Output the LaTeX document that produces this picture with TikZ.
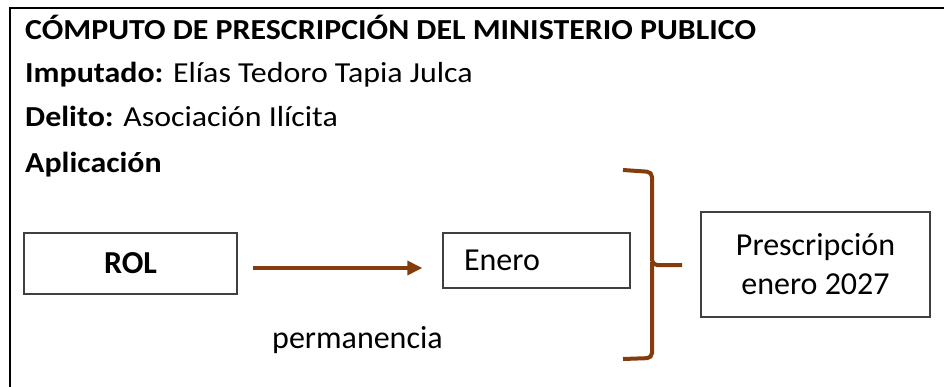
\documentclass[tikz,border=0pt]{standalone}
\usepackage{fontspec}
\setmainfont{Carlito}
\newfontfamily\headfont{Carlito}[FakeStretch=1.1]
\usetikzlibrary{arrows.meta}
\usetikzlibrary{positioning}
\definecolor{rust}{RGB}{132,60,12}

\begin{document}
\begin{tikzpicture}[x=1pt,y=-1pt,>={Triangle[length=15pt,width=14pt]},
  box/.style={draw=black!75,line width=1.4pt,font=\fontsize{32}{39}\selectfont},
  txt/.style={inner sep=0pt,anchor=base west,font=\fontsize{32}{39}\selectfont},
  head/.style={inner sep=0pt,anchor=base west,font=\headfont\fontsize{29}{35}\selectfont}]

\useasboundingbox (0,0) rectangle (944,387);

% Outer frame
\draw[line width=2.3pt] (10,400) -- (10,8) -- (950,8);

% Header lines
\node[head] (T) at (25,40) {\textbf{CÓMPUTO DE PRESCRIPCIÓN DEL MINISTERIO PUBLICO}};
\node[head] (I) at (25,83) {\textbf{Imputado:} Elías Tedoro Tapia Julca};
\node[head] (D) at (25,127) {\textbf{Delito:} Asociación Ilícita};
\node[head] (A) at (25,173) {\textbf{Aplicación}};

% Boxes
\node[box,minimum width=213pt,minimum height=61pt] (ROL) at (130.5,263.5) {\textbf{ROL}};
\node[box,minimum width=187pt,minimum height=55pt,text width=145pt,inner xsep=21pt,align=left] (E) at (536.5,260.5) {Enero};
\node[box,minimum width=229pt,minimum height=105pt,align=center] (P) at (815.5,264.5) {Prescripción\\enero 2027};

% Arrow
\draw[->,rust,line width=3.5pt] ([shift={(15,4.5)}]ROL.east) -- ([shift={(-20,7.5)}]E.west);
\node[txt] (perm) at (272,348) {permanencia};

% Brace
\draw[rust,line width=4pt,rounded corners=5pt] (623,170) -- (652,172) -- (652,265) -- (682,265);
\draw[rust,line width=4pt,rounded corners=5pt] (652,262) -- (652,358) -- (623,359);

\end{tikzpicture}
\end{document}
